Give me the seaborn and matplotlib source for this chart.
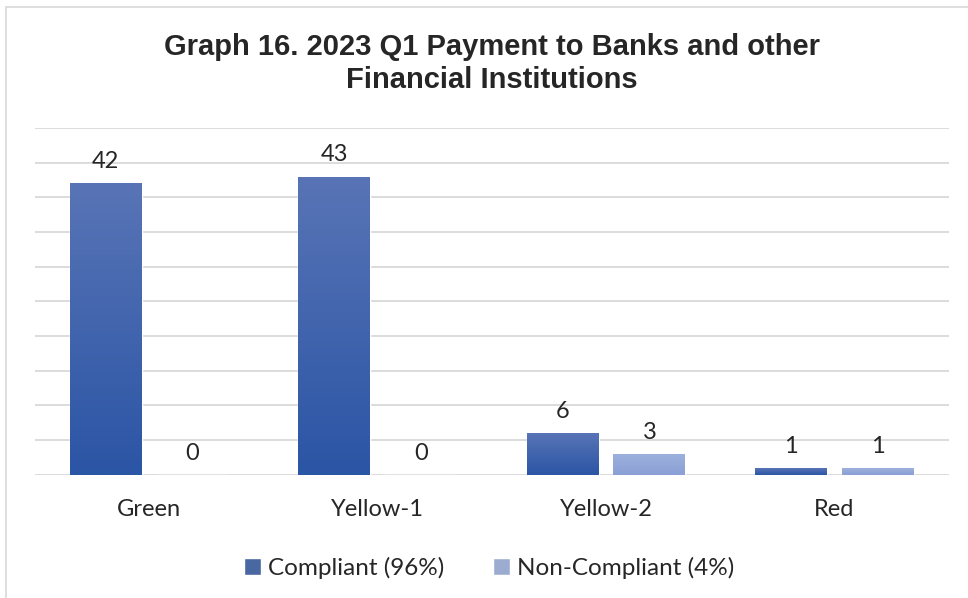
import numpy as np
import pandas as pd
import seaborn as sns
import matplotlib.pyplot as plt
from matplotlib.colors import LinearSegmentedColormap
from matplotlib.patches import Rectangle

categories = ['Green', 'Yellow-1', 'Yellow-2', 'Red']
compliant = [42, 43, 6, 1]
non_compliant = [0, 0, 3, 1]
series_names = ['Compliant (96%)', 'Non-Compliant (4%)']

df = pd.DataFrame({
    'Category': categories * 2,
    'Count': compliant + non_compliant,
    'Series': [series_names[0]] * 4 + [series_names[1]] * 4,
})

sns.set_style('white')
plt.rcParams['font.family'] = ['Lato', 'DejaVu Sans']

fig = plt.figure(figsize=(9.68, 5.98), dpi=100)
ax = fig.add_axes([0.036, 0.206, 0.944, 0.58])

solid = ['#3a62b0', '#93a8da']
grads = [('#2b55a5', '#5874b6'), ('#8a9fd4', '#9db1de')]

sns.barplot(data=df, x='Category', y='Count', hue='Series', palette=solid,
            width=0.76, gap=0.172, ax=ax, legend=True, zorder=2)

ax.set_ylim(0, 50)
ax.set_yticks(np.arange(0, 51, 5))
ax.yaxis.grid(True, color='#d9d9d9', linewidth=1.3, zorder=0)
ax.set_axisbelow(True)
ax.tick_params(axis='y', left=False, labelleft=False)
ax.tick_params(axis='x', bottom=False, labelsize=17, pad=14)
for s in ax.spines.values():
    s.set_visible(False)
ax.set_xlabel('')
ax.set_ylabel('')

# gradient fill for the bars + value labels
for i, cont in enumerate(ax.containers):
    cmap = LinearSegmentedColormap.from_list('g%d' % i, list(grads[i]))
    for bar in cont:
        x0, w, h = bar.get_x(), bar.get_width(), bar.get_height()
        if h > 0:
            im = ax.imshow(np.linspace(0, 1, 100).reshape(-1, 1), cmap=cmap,
                           origin='lower', aspect='auto',
                           extent=(x0, x0 + w, 0, h), zorder=2.5)
            im.set_clip_path(bar)
    ax.bar_label(cont, fontsize=17, padding=8)

ax.set_xlim(-0.5, 3.5)
ax.set_ylim(0, 50)

handles, labels = ax.get_legend_handles_labels()
ax.legend(handles, labels, loc='upper center', bbox_to_anchor=(0.497, -0.173),
          ncol=2, frameon=False, fontsize=17.5, handlelength=0.7, handleheight=0.7,
          handletextpad=0.3, columnspacing=2.0)

fig.suptitle('Graph 16. 2023 Q1 Payment to Banks and other\nFinancial Institutions',
             x=0.508, y=0.945, fontsize=21, fontweight='bold',
             family=['Liberation Sans'], linespacing=1.25)

fig.patches.append(Rectangle((0.006, -0.01), 1.1, 0.998, transform=fig.transFigure,
                             fill=False, edgecolor='#d9d9d9', linewidth=1.2))

fig.savefig('out.png', dpi=100)
